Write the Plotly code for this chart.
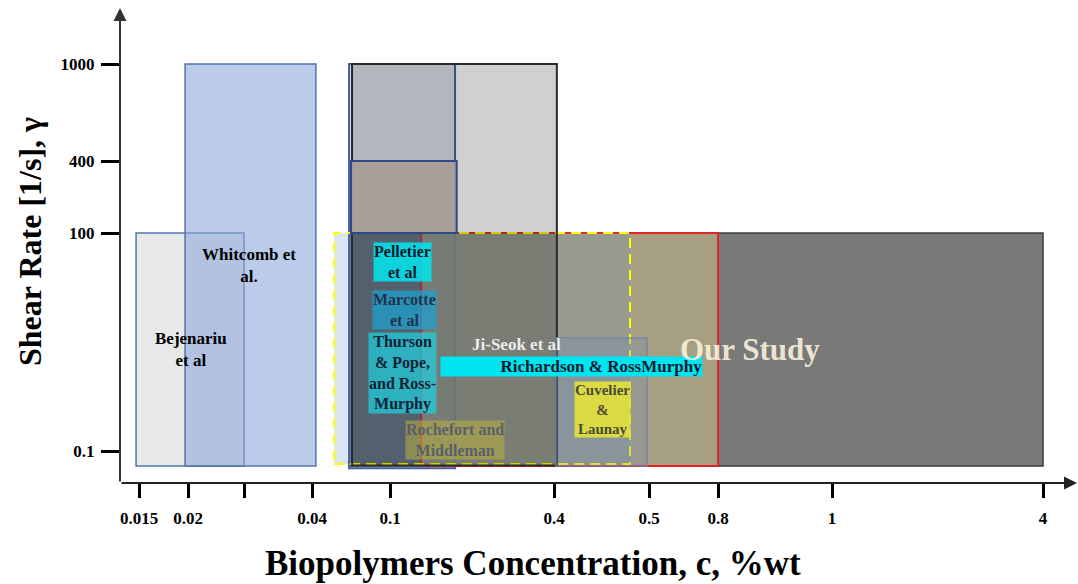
import numpy as np
import plotly.graph_objects as go

# ---------------- data ----------------
x_tick_values = [0.015, 0.02, 0.03, 0.04, 0.1, 0.4, 0.5, 0.8, 1, 4]
x_tick_labels = ["0.015", "0.02", "", "0.04", "0.1", "0.4", "0.5", "0.8", "1", "4"]
y_tick_values = [0.1, 100, 400, 1000]
y_tick_labels = ["0.1", "100", "400", "1000"]

studies = ["Bejenariu et al", "Whitcomb et al.", "Our Study", "Marcotte et al / Thurson & Pope, and Ross-Murphy",
           "Richardson & Ross-Murphy", "Rochefort and Middleman", "Ji-Seok et al", "Cuvelier & Launay",
           "Pelletier et al"]
conc_min = [0.0147, 0.0197, 0.0685, 0.0685, 0.157, 0.057, 0.0708, 0.402, 0.070]
conc_max = [0.030, 0.043, 4.0, 0.219, 0.80, 0.48, 0.403, 0.498, 0.222]
shear_min = [0.062, 0.062, 0.062, 0.058, 0.062, 0.066, 0.063, 0.062, 100]
shear_max = [100, 1000, 100, 1000, 100, 100, 1000, 3.6, 400]

# ---------------- custom (non-uniform) scales ----------------
x_tick_pos = [139, 188, 244, 312, 390, 554, 649, 718, 832, 1043]
y_tick_pos = [451, 233, 161, 64]


def _pw(v, vals, pos):
    vals = np.asarray(vals, float)
    pos = np.asarray(pos, float)
    if v < vals[0]:
        return pos[0] + (v - vals[0]) * (pos[1] - pos[0]) / (vals[1] - vals[0])
    if v > vals[-1]:
        return pos[-1] + (v - vals[-1]) * (pos[-1] - pos[-2]) / (vals[-1] - vals[-2])
    return float(np.interp(v, vals, pos))


def xmap(c):
    return _pw(c, x_tick_values, x_tick_pos)


def ymap(g):
    return _pw(np.log10(g), np.log10(y_tick_values), y_tick_pos)


# ---------------- styles ----------------
fills = [
    "rgb(232,232,232)",
    "rgba(142,169,219,0.6)",
    "rgb(121,121,121)",
    "rgba(60,80,130,0.18)",
    "rgba(225,206,141,0.45)",
    "rgba(88,136,193,0.21)",
    "rgba(0,0,0,0.184)",
    "rgba(100,130,190,0.25)",
    "rgba(168,158,151,0.95)",
]
lines = [
    dict(color="#5275ad", width=1.5),
    dict(color="#5275ad", width=1.5),
    dict(color="#3c3c3c", width=1.5),
    dict(color="#3f62a0", width=2),
    dict(color="#e8202a", width=2),
    dict(color="#ffff00", width=2, dash="10px,6px"),
    dict(color="#2a2a2a", width=2),
    dict(color="rgba(110,130,170,0.8)", width=1.5),
    dict(color="#2d4a86", width=2),
]

fig = go.Figure()
fig.add_trace(go.Scatter(x=[None], y=[None], showlegend=False))

for i, name in enumerate(studies):
    fig.add_shape(type="rect", xref="x", yref="y",
                  x0=xmap(conc_min[i]), x1=xmap(conc_max[i]),
                  y0=ymap(shear_min[i]), y1=ymap(shear_max[i]),
                  fillcolor=fills[i], line=lines[i], layer="above", name=name)

SERIF = "Liberation Serif"


def lab(text, x, y, size=16, color="black", bg=None, xanchor="center"):
    fig.add_annotation(x=x, y=y, xref="x", yref="y", text=text, showarrow=False,
                       xanchor=xanchor, yanchor="middle", align="center",
                       font=dict(family=SERIF, size=size, color=color, weight="bold"),
                       bgcolor=bg, borderpad=0)


# study labels
lab("Whitcomb et<br>al.", 249, 265, size=17)
lab("Bejenariu<br>et al", 191, 349, size=17)

lab("Pelletier<br>et al", 402, 262, color="#0d1a2e", bg="rgba(0,232,240,0.85)")
lab("Marcotte<br>et al", 404, 310, color="#1d3350", bg="rgba(30,160,205,0.75)")
lab("Thurson<br>&amp; Pope,<br>and Ross-<br>Murphy", 402, 373, color="#0f2236",
    bg="rgba(30,212,225,0.7)")

lab("Ji-Seok et al", 516, 344, size=17, color="#ececec")
lab("\u00a0" * 14 + "Richardson &amp; RossMurphy", 703, 366, size=17, color="#0b1a30",
    bg="rgb(0,230,240)", xanchor="right")

lab("Cuvelier<br>&amp;<br>Launay", 602, 409, size=15, color="#4a4a3a", bg="rgba(235,230,50,0.85)")
lab("Rochefort and<br>Middleman", 455, 440, color="rgba(80,88,110,0.9)",
    bg="rgba(185,178,60,0.55)")

lab("Our Study", 750, 349, size=31, color="rgba(248,240,220,0.92)")


# axis titles (paper coordinates; plot area = x 120..1078 px, y 0..483 px)
def px_to_paper(px, py):
    return (px - 120) / 958.0, (483 - py) / 483.0


tx, ty = px_to_paper(30, 242)
fig.add_annotation(x=tx, y=ty, xref="paper", yref="paper", text="Shear Rate [1/s], γ", showarrow=False,
                   textangle=-90, xanchor="center", yanchor="middle",
                   font=dict(family=SERIF, size=32, color="black", weight="bold"))
tx, ty = px_to_paper(533, 563)
fig.add_annotation(x=tx, y=ty, xref="paper", yref="paper", text="Biopolymers Concentration, c, %wt",
                   showarrow=False, xanchor="center", yanchor="middle",
                   font=dict(family=SERIF, size=35, color="black", weight="bold"))

# axis arrows
fig.add_annotation(x=120, y=8, ax=120, ay=483, xref="x", yref="y", axref="x", ayref="y",
                   text="", showarrow=True, arrowhead=2, arrowsize=1.3, arrowwidth=2,
                   arrowcolor="#333333")
fig.add_annotation(x=1077, y=483, ax=120, ay=483, xref="x", yref="y", axref="x", ayref="y",
                   text="", showarrow=True, arrowhead=2, arrowsize=1.3, arrowwidth=2,
                   arrowcolor="#222222")

fig.update_layout(
    width=1078, height=584,
    margin=dict(l=120, r=0, t=0, b=101),
    paper_bgcolor="white", plot_bgcolor="white",
    showlegend=False,
    xaxis=dict(range=[120, 1078], showgrid=False, zeroline=False, showline=False,
               tickvals=[xmap(v) for v in x_tick_values], ticktext=x_tick_labels,
               ticks="outside", ticklen=14, tickwidth=2.5, tickcolor="black",
               ticklabelstandoff=6,
               tickfont=dict(family=SERIF, size=17, color="black", weight="bold")),
    yaxis=dict(range=[483, 0], showgrid=False, zeroline=False, showline=False,
               tickvals=[ymap(v) for v in y_tick_values], ticktext=y_tick_labels,
               ticks="outside", ticklen=18, tickwidth=2.5, tickcolor="black",
               ticklabelstandoff=3,
               tickfont=dict(family=SERIF, size=17, color="black", weight="bold")),
)

fig.write_html("out.html")
